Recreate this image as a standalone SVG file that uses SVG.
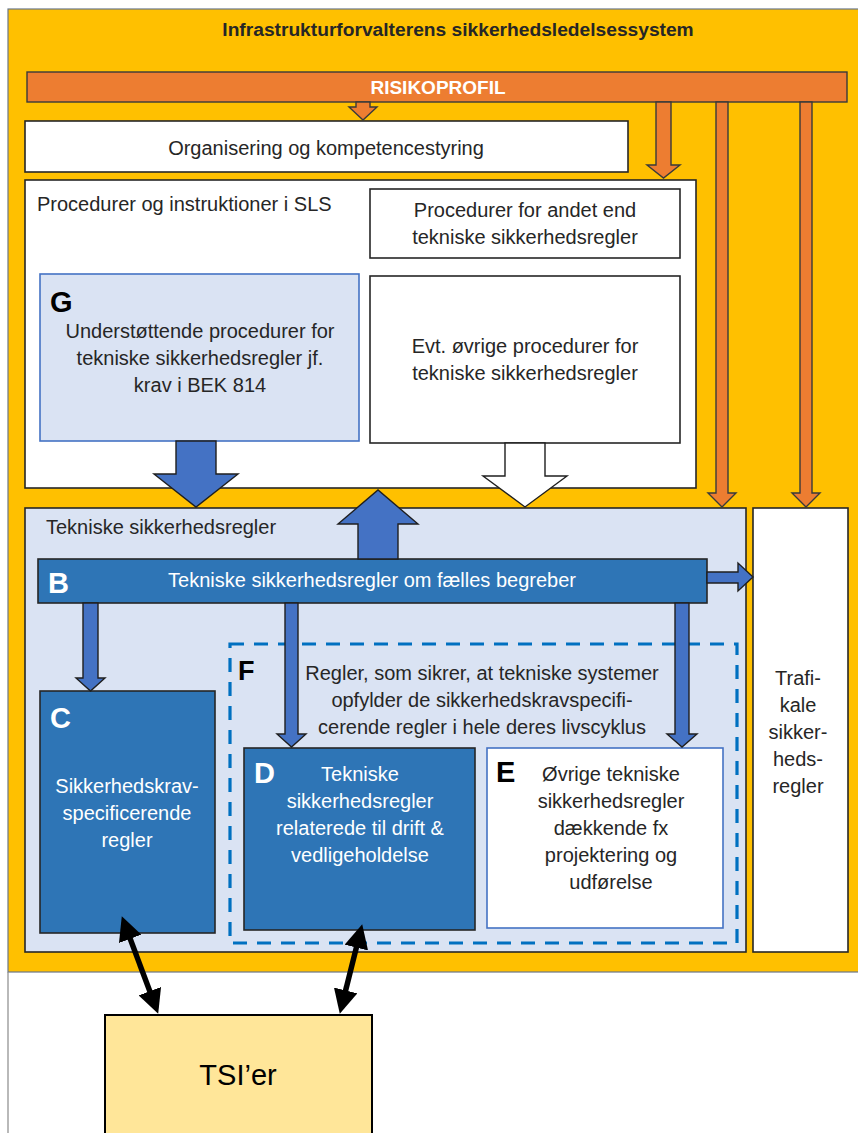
<svg xmlns="http://www.w3.org/2000/svg" width="858" height="1133" viewBox="0 0 858 1133">
<defs>
<style>
text{font-family:"Liberation Sans",Arial,sans-serif;font-size:20px;fill:#262626}
.c{text-anchor:middle}
.w{fill:#ffffff}
.bold{font-weight:bold}
.let{font-weight:bold;font-size:29px}
.box{stroke:#262626;stroke-width:1.6}
.white{fill:#ffffff}
.lb{fill:#DAE3F3}
.db{fill:#2E75B6}
.or{fill:#ED7D31;stroke:#3a3a3a;stroke-width:1.4}
.ba{fill:#4472C4;stroke:#1f1f1f;stroke-width:1.4}
.wa{fill:#ffffff;stroke:#1f1f1f;stroke-width:1.4}
.dbl{stroke:#000;stroke-width:5.5;fill:none;marker-start:url(#ah);marker-end:url(#ah)}
</style>
<marker id="ah" viewBox="0 0 10 10" refX="5" refY="5" markerWidth="24" markerHeight="24" markerUnits="userSpaceOnUse" orient="auto-start-reverse">
<path d="M0,0 L10,5 L0,10 z" fill="#000"/>
</marker>
</defs>
<rect x="0" y="0" width="858" height="1133" fill="#ffffff"/>
<g id="frame">
<rect x="8" y="9" width="852" height="963" fill="#FFC000" stroke="#6b7788" stroke-width="1.2"/>
<line x1="8" y1="972" x2="8" y2="1133" stroke="#8a8a8a" stroke-width="1.2"/>
<text class="c bold" x="458" y="36" style="font-size:19.2px">Infrastrukturforvalterens sikkerhedsledelsessystem</text>
</g>
<g id="risikoprofil">
<rect x="27" y="72" width="820" height="30" class="or"/>
<text class="c bold w" x="438" y="94" style="font-size:19px">RISIKOPROFIL</text>
</g>
<g id="organisering">
<rect x="25" y="121" width="603" height="51" class="box white"/>
<text class="c" x="326" y="155">Organisering og kompetencestyring</text>
</g>
<g id="procedurer">
<rect x="25" y="180" width="671" height="308" class="box white"/>
<text x="37" y="211">Procedurer og instruktioner i SLS</text>
</g>
<g id="procedurer-andet">
<rect x="370" y="189" width="310" height="69" class="box white"/>
<text class="c" x="525" y="217">Procedurer for andet end</text>
<text class="c" x="525" y="244">tekniske sikkerhedsregler</text>
</g>
<g id="evt">
<rect x="370" y="276" width="310" height="167" class="box white"/>
<text class="c" x="525" y="353">Evt. øvrige procedurer for</text>
<text class="c" x="525" y="380">tekniske sikkerhedsregler</text>
</g>
<g id="G">
<rect x="40" y="274" width="319" height="167" class="lb" stroke="#4472C4" stroke-width="1.6"/>
<text class="let" x="50" y="312" style="fill:#000">G</text>
<text class="c" x="200" y="338">Understøttende procedurer for</text>
<text class="c" x="200" y="365">tekniske sikkerhedsregler jf.</text>
<text class="c" x="200" y="392">krav i BEK 814</text>
</g>
<g id="tekniske">
<rect x="25" y="508" width="721" height="444" class="box lb"/>
<text x="46" y="534">Tekniske sikkerhedsregler</text>
</g>
<g id="trafikale">
<rect x="753" y="508" width="95" height="444" class="box white"/>
<text class="c" x="798" y="685">Trafi-</text>
<text class="c" x="798" y="712">kale</text>
<text class="c" x="798" y="739">sikker-</text>
<text class="c" x="798" y="766">heds-</text>
<text class="c" x="798" y="793">regler</text>
</g>
<g id="B">
<rect x="38" y="559" width="669" height="44" class="box db"/>
<text class="let w" x="48" y="593">B</text>
<text class="c w" x="372" y="587">Tekniske sikkerhedsregler om fælles begreber</text>
</g>
<g id="F">
<rect x="230" y="644" width="507" height="299" fill="none" stroke="#0070C0" stroke-width="3.2" stroke-dasharray="14 10"/>
<text class="let" x="238" y="680" style="font-size:27px;fill:#000">F</text>
<text class="c" x="482" y="680">Regler, som sikrer, at tekniske systemer</text>
<text class="c" x="482" y="707">opfylder de sikkerhedskravspecifi-</text>
<text class="c" x="482" y="734">cerende regler i hele deres livscyklus</text>
</g>
<g id="C">
<rect x="40" y="691" width="175" height="242" class="box db"/>
<text class="let w" x="50" y="728">C</text>
<text class="c w" x="127" y="793">Sikkerhedskrav-</text>
<text class="c w" x="127" y="820">specificerende</text>
<text class="c w" x="127" y="847">regler</text>
</g>
<g id="D">
<rect x="244" y="748" width="231" height="182" class="box db"/>
<text class="let w" x="254" y="783">D</text>
<text class="c w" x="360" y="781">Tekniske</text>
<text class="c w" x="360" y="808">sikkerhedsregler</text>
<text class="c w" x="360" y="835">relaterede til drift &amp;</text>
<text class="c w" x="360" y="862">vedligeholdelse</text>
</g>
<g id="E">
<rect x="487" y="748" width="236" height="180" class="white" stroke="#4472C4" stroke-width="1.6"/>
<text class="let" x="496" y="782" style="fill:#000">E</text>
<text class="c" x="611" y="781">Øvrige tekniske</text>
<text class="c" x="611" y="808">sikkerhedsregler</text>
<text class="c" x="611" y="835">dækkende fx</text>
<text class="c" x="611" y="862">projektering og</text>
<text class="c" x="611" y="889">udførelse</text>
</g>
<g id="TSI">
<rect x="105" y="1015" width="267" height="130" fill="#FFE699" stroke="#000" stroke-width="2"/>
<text class="c" x="238" y="1085" style="font-size:29px;fill:#000">TSI’er</text>
</g>
<g id="connectors">
<polygon class="or" points="356,102 370,102 370,107 377,107 363,120 349,107 356,107"/>
<polygon class="or" points="656,102 671,102 671,165 680,165 663.5,178 647,165 656,165"/>
<polygon class="or" points="716,102 728,102 728,493 736,493 722,507 708,493 716,493"/>
<polygon class="or" points="800,102 812,102 812,493 820,493 806,507 792,493 800,493"/>
<polygon class="ba" points="176,441 216,441 216,474 238,474 196,507 154,474 176,474"/>
<polygon class="wa" points="505,443 545,443 545,476 567,476 525,507 483,476 505,476"/>
<polygon class="ba" points="358,559 398,559 398,524 418,524 378,490 338,524 358,524"/>
<polygon class="ba" points="83,603 98,603 98,678 105,678 90.5,691 76,678 83,678"/>
<polygon class="ba" points="285,603 298,603 298,734 306,734 291.5,747 277,734 285,734"/>
<polygon class="ba" points="675,603 689,603 689,734 697,734 682,747 667,734 675,734"/>
<polygon class="ba" points="707,572 738,572 738,563 753,577 738,591 738,583 707,583"/>
<line class="dbl" x1="126" y1="927.6" x2="154" y2="1002.4"/>
<line class="dbl" x1="359.3" y1="935.9" x2="342.7" y2="1002.1"/>
</g>
</svg>
